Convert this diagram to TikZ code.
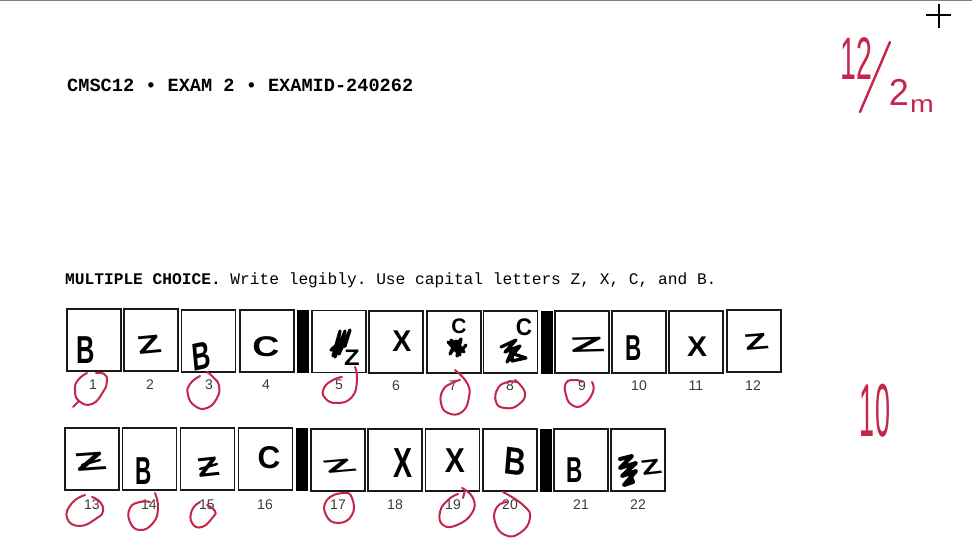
\documentclass[tikz,border=0pt]{standalone}
\usepackage{fontspec}
\setmainfont{Liberation Sans}
\setmonofont{Liberation Mono}
\definecolor{redpen}{HTML}{C4264A}
\definecolor{ink}{HTML}{1A1A1A}
\tikzset{
  cell/.style={draw=ink, line width=1.5pt, minimum width=54pt, minimum height=62pt, inner sep=0pt},
  bar/.style={fill=black, minimum width=12pt, minimum height=63pt, inner sep=0pt},
  num/.style={font=\fontsize{14}{16}\selectfont, text=ink!85, inner sep=0pt},
  hand/.style={font=\bfseries\fontsize{30}{32}\selectfont, text=black, inner sep=0pt},
  pen/.style={font=\fontsize{30}{32}\selectfont, text=redpen, inner sep=0pt},
  ring/.style={draw=redpen, line width=2pt, line cap=round, tension=0.85},
  scrib/.style={draw=black, line width=3.2pt, line cap=round, line join=round}
}
\begin{document}
\begin{tikzpicture}[x=1pt, y=-1pt]
\useasboundingbox (0,0) rectangle (972,556);
\fill[white] (0,0) rectangle (972,556);
\draw[gray, line width=1.5pt] (0,0.7) -- (972,0.7);

% Cursor
\draw[black, line width=2pt] (926,15.5) -- (951,15.5);
\draw[black, line width=2pt] (938.5,4) -- (938.5,28);

% Printed lines
\node[anchor=west, inner sep=0pt, font=\ttfamily\bfseries\fontsize{18.6}{20}\selectfont] (title) at (67,85) {CMSC12 • EXAM 2 • EXAMID-240262};
\node[anchor=west, inner sep=0pt, font=\ttfamily\fontsize{16.2}{18}\selectfont] (intro) at (65,280) {\textbf{MULTIPLE CHOICE.} Write legibly. Use capital letters Z, X, C, and B.};

% Top row of cells
\node[cell] (c1) at (94,340) {};
\node[cell] (c2) at (151,340) {};
\node[cell] (c3) at (208.5,341) {};
\node[cell] (c4) at (267,341) {};
\node[bar] (s1) at (303,341.5) {};
\node[cell] (c5) at (339,341.5) {};
\node[cell] (c6) at (396,342) {};
\node[cell] (c7) at (454,342) {};
\node[cell] (c8) at (510.5,342) {};
\node[bar] (s2) at (546.5,342) {};
\node[cell] (c9) at (582,342) {};
\node[cell] (c10) at (639,342) {};
\node[cell] (c11) at (696,342) {};
\node[cell] (c12) at (754,341) {};

% Bottom row of cells
\node[cell] (c13) at (92,459) {};
\node[cell] (c14) at (149.5,459) {};
\node[cell] (c15) at (207.5,459) {};
\node[cell] (c16) at (265.5,459) {};
\node[bar] (s3) at (302,459.5) {};
\node[cell] (c17) at (338,460) {};
\node[cell] (c18) at (395,460) {};
\node[cell] (c19) at (452.5,460) {};
\node[cell] (c20) at (510,460) {};
\node[bar] (s4) at (545.5,460) {};
\node[cell] (c21) at (581,460) {};
\node[cell] (c22) at (638,460) {};

% Numbers
\node[num] (n1) at (93,385) {1};
\node[num] (n2) at (150,385) {2};
\node[num] (n3) at (209,385) {3};
\node[num] (n4) at (266,385) {4};
\node[num] (n5) at (339,385) {5};
\node[num] (n6) at (396,386) {6};
\node[num] (n7) at (453,386) {7};
\node[num] (n8) at (510,386) {8};
\node[num] (n9) at (582,386) {9};
\node[num] (n10) at (639,386) {10};
\node[num] (n11) at (696,386) {11};
\node[num] (n12) at (753,386) {12};
\node[num] (n13) at (92,505) {13};
\node[num] (n14) at (149,505) {14};
\node[num] (n15) at (207,505) {15};
\node[num] (n16) at (265,505) {16};
\node[num] (n17) at (338,505) {17};
\node[num] (n18) at (395,505) {18};
\node[num] (n19) at (453,505) {19};
\node[num] (n20) at (510,505) {20};
\node[num] (n21) at (581,505) {21};
\node[num] (n22) at (638,505) {22};

% Answers, top row
\node[hand, xscale=.85, yscale=1.3] (a1) at (86,350) {B};
\node[hand, xscale=1.3, yscale=.85, rotate=8] (a2) at (149,345) {Z};
\node[hand, xscale=.85, yscale=1.3, rotate=8] (a3) at (201,356) {B};
\node[hand, xscale=1.25, yscale=.95] (a4) at (266,347) {C};
\node[hand, xscale=.85, yscale=.75] (a5) at (352,358) {Z};
\node[hand, xscale=.95, yscale=1] (a6) at (402,341) {X};
\node[hand, xscale=.7, yscale=.7] (a7) at (459,326) {C};
\node[hand, xscale=.75, yscale=.8] (a8) at (524,327) {C};
\node[hand, xscale=1.9, yscale=.7, rotate=4] (a9) at (587,345) {Z};
\node[hand, xscale=.75, yscale=1.2] (a10) at (634,348) {B};
\node[hand, xscale=1, yscale=.95] (a11) at (697,347) {X};
\node[hand, xscale=1.3, yscale=.75, rotate=8] (a12) at (756,342) {Z};

% Answers, bottom row
\node[hand, xscale=1.7, yscale=.85, rotate=8] (a13) at (90,462) {Z};
\node[hand, xscale=.75, yscale=1.3] (a14) at (144,471) {B};
\node[hand, xscale=1.2, yscale=.9, rotate=8] (a15) at (208,467) {Z};
\node[hand, xscale=1.05, yscale=1.05] (a16) at (269,458) {C};
\node[hand, xscale=1.7, yscale=.6, rotate=14] (a17) at (339,466) {Z};
\node[hand, xscale=.95, yscale=1.4] (a18) at (403,463) {X};
\node[hand, xscale=1, yscale=1.15] (a19) at (455,461) {X};
\node[hand, xscale=1, yscale=1.3, rotate=-6] (a20) at (515,462) {B};
\node[hand, xscale=.75, yscale=1.2] (a21) at (575,470) {B};
\node[hand, xscale=1.1, yscale=.7, rotate=10] (a22) at (651,467) {Z};

% Scribbled out answers
\draw[scrib] (333,356) -- (340,331) -- (335,357) -- (345,331) -- (339,354) -- (350,330) -- (345,346) -- (331,350) -- (344,338);
\draw[scrib] (448,342) -- (460,355) -- (451,340) -- (464,352) -- (456,341) -- (450,354) -- (461,339) -- (457,356) -- (466,345);
\draw[scrib] (501,347) -- (516,340) -- (505,352) -- (520,346) -- (507,362) -- (513,348) -- (512,361) -- (526,358) -- (514,354);
\draw[scrib, line width=4pt] (620,459) -- (632,456) -- (620,468) -- (636,463) -- (622,476) -- (636,471) -- (624,485) -- (633,482) -- (628,470);

% Strokes across the Z answers
\draw[scrib, line width=2.4pt] (82,465) -- (100,460);
\draw[scrib, line width=2.4pt] (200,469) -- (217,464);

% Red circles, top row
\draw[ring] plot[smooth] coordinates {(87,373) (78,380) (75,390) (79,401) (92,404) (103,392) (107,381) (104,374) (96,373)};
\draw[ring] (73,407) -- (79,401);
\draw[ring] plot[smooth] coordinates {(200,376) (190,384) (188,395) (195,406) (207,408) (217,398) (219,386) (214,378) (207,372)};
\draw[ring] plot[smooth] coordinates {(355,367) (357,380) (352,397) (337,403) (325,398) (324,388) (333,380) (342,377)};
\draw[ring] plot[smooth] coordinates {(455,370) (467,383) (469,397) (462,412) (448,413) (441,403) (443,390) (452,383) (460,380)};
\draw[ring] plot[smooth] coordinates {(515,380) (525,393) (518,405) (505,408) (496,402) (498,388) (508,382) (516,382)};
\draw[ring] plot[smooth] coordinates {(592,382) (593,392) (583,405) (572,405) (566,395) (566,383) (575,380) (582,382)};

% Red circles, bottom row
\draw[ring] plot[smooth] coordinates {(85,495) (72,503) (67,518) (80,526) (97,518) (103,511) (100,502) (92,497)};
\draw[ring] plot[smooth] coordinates {(155,493) (158,508) (153,523) (140,530) (130,522) (130,508) (140,502) (150,502)};
\draw[ring] plot[smooth] coordinates {(200,502) (192,510) (192,523) (202,527) (213,517) (215,511) (207,505)};
\draw[ring] plot[smooth cycle] coordinates {(343,493) (327,500) (326,515) (338,523) (352,515) (352,498)};
\draw[ring] plot[smooth] coordinates {(462,488) (473,498) (472,513) (457,525) (443,525) (440,512) (448,500) (458,494)};
\draw[ring] (465,490) -- (463,498);
\draw[ring] plot[smooth] coordinates {(503,492) (523,505) (530,518) (520,533) (505,535) (495,522) (497,507) (507,502)};

% Red marks on the margin
\node[pen, xscale=.95, yscale=2] (mark1) at (856,59) {12};
\draw[ring, line width=2.4pt] (890,42) -- (860,112);
\node[pen, xscale=1.2, yscale=1.25] (mark2) at (899,92) {2};
\node[pen, xscale=.95, yscale=.8] (mark3) at (922,106) {m};
\node[pen, xscale=.9, yscale=2.5] (mark4) at (875,411) {10};

\end{tikzpicture}
\end{document}
